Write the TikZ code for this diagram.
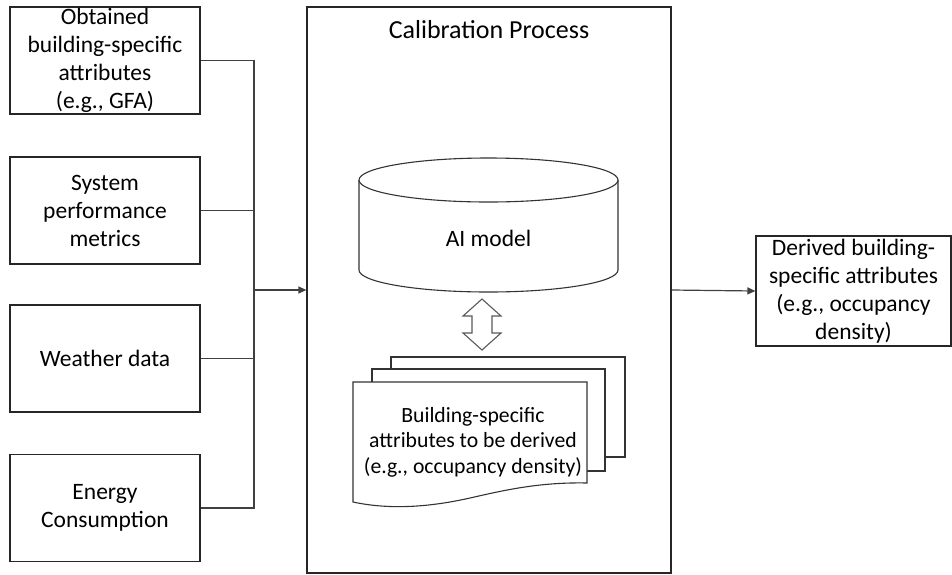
\documentclass[tikz,border=0pt]{standalone}
\usepackage{fontspec}
\setmainfont{Carlito}
\usetikzlibrary{arrows.meta}
\begin{document}
\begin{tikzpicture}[x=1pt,y=-1pt,
  inbox/.style={draw=black!85,line width=1.2pt,inner sep=0pt,minimum width=190pt,minimum height=107pt,align=center,font=\fontsize{23.5}{28}\selectfont},
  conn/.style={draw=black!75,line width=1.2pt},
  arr/.style={conn,-{Triangle[length=8pt,width=7pt]}},
  outline/.style={draw=black!80,line width=1.1pt},
  doctext/.style={align=center,inner sep=0pt,font=\fontsize{21.7}{25.5}\selectfont}]
\useasboundingbox (0,0) rectangle (952,574);
% input boxes
\node[inbox] (b1) at (105,60.5) {Obtained\\building-specific\\attributes\\(e.g., GFA)};
\node[inbox] (b2) at (105,210.5) {System\\performance\\metrics};
\node[inbox] (b3) at (105,358.5) {Weather data};
\node[inbox] (b4) at (105,508) {Energy\\Consumption};
% calibration box
\node[draw=black!85,line width=1.2pt,minimum width=364pt,minimum height=566pt,inner sep=0pt] (calib) at (489,290) {};
\node[font=\fontsize{26}{30}\selectfont,inner sep=0pt] (title) at (489,30) {Calibration Process};
% output box
\node[inbox,minimum width=195pt,minimum height=110pt] (out) at (853.5,291) {Derived building-\\specific attributes\\(e.g., occupancy\\density)};
% bus connectors
\coordinate (bx) at (254,0);
\draw[conn] (b1.east) -| (b4.east -| bx) -- (b4.east);
\draw[conn] (b2.east) -- (b2.east -| bx);
\draw[conn] (b3.east) -- (b3.east -| bx);
\draw[arr] (bx |- calib.west) -- (calib.west);
\draw[arr] (calib.east) -- (out.west);
% cylinder
\draw[outline,fill=white] (359,180) -- (359,270) arc[start angle=180,end angle=360,x radius=129.5,y radius=-22] -- (618,180);
\draw[outline,fill=white] (488.5,180) ellipse[x radius=129.5,y radius=22];
\node[font=\fontsize{23.5}{28}\selectfont,inner sep=0pt] (ai) at (488.5,238) {AI model};
% double arrow
\draw[draw=black!65,line width=1.1pt,fill=white] (482,299) -- (501,316) -- (492,316) -- (492,333) -- (501,333) -- (482,350) -- (463,333) -- (472,333) -- (472,316) -- (463,316) -- cycle;
% document stack
\draw[outline,fill=white] (391,369) -- (391,357) -- (625,357) -- (625,457) -- (605,457);
\draw[outline,fill=white] (372,382) -- (372,369) -- (605,369) -- (605,471) -- (587,471);
\draw[outline,fill=white] (353,382) -- (587,382) -- (587,483)
  .. controls (540,482) and (505,490) .. (470,498)
  .. controls (430,507) and (390,510) .. (353,502) -- cycle;
\node[doctext] (doc) at (473,442) {Building-specific\\attributes to be derived\\(e.g., occupancy density)};
\end{tikzpicture}
\end{document}
